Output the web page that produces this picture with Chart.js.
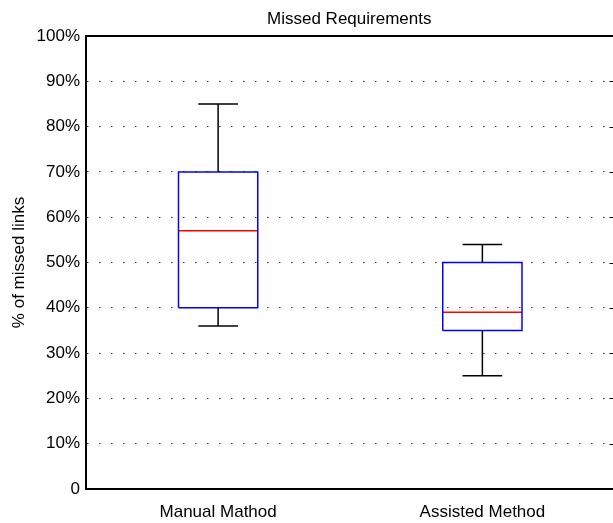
<!DOCTYPE html>
<html>
<head>
<meta charset="utf-8">
<script src="https://cdn.jsdelivr.net/npm/chart.js@4"></script>
<style>
  html, body { margin: 0; padding: 0; background: #fff; overflow: hidden; }
  #wrap { position: relative; width: 616px; height: 523px; }
</style>
</head>
<body>
<div id="wrap"><canvas id="chart"></canvas></div>
<script>
// box statistics (percent)
const categories = ["Manual Mathod", "Assisted Method"];
const lowWhisker = [36, 25];
const lowerQuartile = [40, 35];
const medians = [57, 39];
const upperQuartile = [70, 50];
const highWhisker = [85, 54];
const yTicks = [0, 10, 20, 30, 40, 50, 60, 70, 80, 90, 100];
const yTickLabels = ["0", "10%", "20%", "30%", "40%", "50%", "60%", "70%", "80%", "90%", "100%"];

const FONT = "'Liberation Sans', Arial, Helvetica, sans-serif";
const FONT_SIZE = 17;
const BOX_HALF = 0.15;
const CAP_HALF = 0.075;

function seg(points, color) {
  return {
    data: points,
    showLine: true,
    borderColor: color,
    borderWidth: 1.5,
    pointRadius: 0,
    fill: false,
  };
}

const datasets = [];
categories.forEach((name, i) => {
  const x = i + 1;
  // whiskers and caps
  datasets.push(seg([{ x, y: upperQuartile[i] }, { x, y: highWhisker[i] }], "#000"));
  datasets.push(seg([{ x, y: lowerQuartile[i] }, { x, y: lowWhisker[i] }], "#000"));
  datasets.push(seg([{ x: x - CAP_HALF, y: highWhisker[i] }, { x: x + CAP_HALF, y: highWhisker[i] }], "#000"));
  datasets.push(seg([{ x: x - CAP_HALF, y: lowWhisker[i] }, { x: x + CAP_HALF, y: lowWhisker[i] }], "#000"));
  // box
  datasets.push(seg([
    { x: x - BOX_HALF, y: lowerQuartile[i] },
    { x: x + BOX_HALF, y: lowerQuartile[i] },
    { x: x + BOX_HALF, y: upperQuartile[i] },
    { x: x - BOX_HALF, y: upperQuartile[i] },
    { x: x - BOX_HALF, y: lowerQuartile[i] },
  ], "#0000ff"));
  // median
  datasets.push(seg([{ x: x - BOX_HALF, y: medians[i] }, { x: x + BOX_HALF, y: medians[i] }], "#ff0000"));
});

// frame on top/right, inner ticks on the right, title over the plot area
const frame = {
  id: "frame",
  afterDraw(chart) {
    const { ctx, chartArea: a, scales } = chart;
    ctx.save();
    ctx.strokeStyle = "#000";
    ctx.lineWidth = 2;
    ctx.beginPath();
    ctx.moveTo(a.left, a.top);
    ctx.lineTo(a.right, a.top);
    ctx.lineTo(a.right, a.bottom);
    ctx.stroke();
    ctx.lineWidth = 1;
    for (const v of yTicks) {
      const y = Math.round(scales.y.getPixelForValue(v)) + 0.5;
      ctx.beginPath();
      ctx.moveTo(a.right - 5, y);
      ctx.lineTo(a.right, y);
      ctx.stroke();
    }
    ctx.fillStyle = "#000";
    ctx.font = FONT_SIZE + "px " + FONT;
    ctx.textAlign = "center";
    ctx.textBaseline = "alphabetic";
    ctx.fillText("Missed Requirements", (a.left + a.right) / 2 - 1, 23.5);
    ctx.restore();
  },
};

new Chart(document.getElementById("chart"), {
  type: "scatter",
  data: { datasets },
  options: {
    responsive: true,
    maintainAspectRatio: false,
    animation: false,
    layout: { padding: { top: 36, right: 1.5, bottom: 0, left: 0 } },
    plugins: {
      legend: { display: false },
      tooltip: { enabled: false },
    },
    scales: {
      x: {
        type: "linear",
        min: 0.5,
        max: 2.5,
        afterBuildTicks: (s) => { s.ticks = categories.map((_, i) => ({ value: i + 1 })); },
        afterFit: (s) => { s.height = 34; },
        ticks: {
          callback: (v) => categories[v - 1],
          color: "#000",
          font: { family: FONT, size: FONT_SIZE },
          padding: 13,
          maxRotation: 0,
        },
        grid: { display: false, drawTicks: false },
        border: { color: "#000", width: 2 },
      },
      y: {
        min: 0,
        max: 100,
        afterBuildTicks: (s) => { s.ticks = yTicks.map((v) => ({ value: v })); },
        afterFit: (s) => { s.width = 86; },
        ticks: {
          callback: (v) => yTickLabels[yTicks.indexOf(v)],
          color: "#000",
          font: { family: FONT, size: FONT_SIZE },
          padding: 6,
        },
        grid: {
          drawTicks: false,
          color: (c) => (c.tick && (c.tick.value === 0 || c.tick.value === 100) ? "rgba(0,0,0,0)" : "#333"),
          lineWidth: 1,
        },
        border: { color: "#000", width: 2, dash: [1.5, 10.5], dashOffset: 0 },
        title: {
          display: true,
          text: "% of missed links",
          color: "#000",
          font: { family: FONT, size: FONT_SIZE },
          padding: { top: 9, bottom: 0 },
        },
      },
    },
  },
  plugins: [frame],
});
</script>
</body>
</html>
